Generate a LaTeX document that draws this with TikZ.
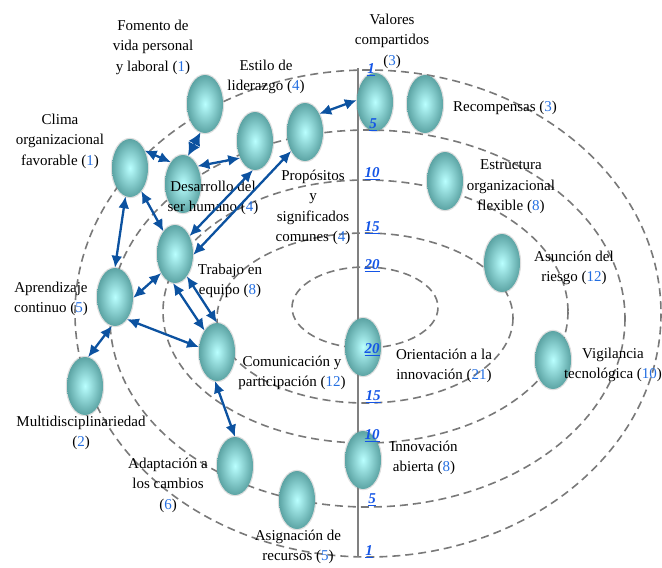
\documentclass[tikz,border=0pt]{standalone}
\usepackage{fontspec}
\setmainfont{Liberation Serif}
\usetikzlibrary{shapes.geometric}
\usetikzlibrary{arrows.meta}
\definecolor{linkblue}{RGB}{12,82,160}
\definecolor{numblue}{RGB}{35,110,225}
\definecolor{scaleblue}{RGB}{20,85,230}
\definecolor{sphereout}{RGB}{92,164,164}
\definecolor{spherein}{RGB}{185,255,255}
\newcommand{\nro}[1]{(\textcolor{numblue}{#1})}
\newcommand{\esc}[1]{\textcolor{scaleblue}{\underline{\textbf{\textit{#1}}}}}
\tikzset{x=1pt, y=-1pt,
    every node/.style={
        font=\fontsize{15}{20.5}\selectfont},
    sphere/.style={
        ellipse,
        minimum width=36pt,
        minimum height=58pt,
        inner sep=0pt,
        shading=radial,
        inner color=spherein,
        outer color=sphereout,
        preaction={draw=gray, line width=2.5pt, draw opacity=0.25}},
    txt/.style={
        align=center,
        inner sep=0pt},
    ring/.style={
        draw=gray!95!black,
        dash pattern=on 8pt off 5pt,
        line width=1.6pt},
    every edge/.style={
        draw,
        {Latex[length=12pt,width=11pt]}-{Latex[length=12pt,width=11pt]},
        color=linkblue,
        line width=2.3pt}}

\begin{document}
\begin{tikzpicture}
        \useasboundingbox (0,0) rectangle (662,568);

        \draw[ring] (365,307.5) ellipse [x radius=73, y radius=40.5];
        \draw[ring] (365,318) ellipse [x radius=148, y radius=85];
        \draw[ring] (365.5,311.5) ellipse [x radius=202.5, y radius=131.5];
        \draw[ring] (367.5,318.5) ellipse [x radius=257.5, y radius=188.5];
        \draw[ring] (368,313.5) ellipse [x radius=293, y radius=243.5];

        \coordinate (axistop) at (358,68);
        \coordinate (axisbot) at (358,557);
        \draw[gray, line width=1.6pt] (axistop) -- (axisbot);

        \node[sphere] (fomento) at (205,104) {};
        \node[sphere] (estilo) at (255,141) {};
        \node[sphere] (propositos) at (305,132) {};
        \node[sphere] (valores) at (375,102) {};
        \node[sphere] (recompensas) at (425,104) {};
        \node[sphere] (estructura) at (445,181) {};
        \node[sphere] (asuncion) at (502,263) {};
        \node[sphere] (vigilancia) at (553,360) {};
        \node[sphere] (orientacion) at (363,347) {};
        \node[sphere] (abierta) at (363,460) {};
        \node[sphere] (asignacion) at (297,500) {};
        \node[sphere] (adaptacion) at (235,466) {};
        \node[sphere] (multi) at (85,386) {};
        \node[sphere] (aprendizaje) at (115,297) {};
        \node[sphere] (trabajo) at (175,254) {};
        \node[sphere] (comunicacion) at (217,352) {};
        \node[sphere] (desarrollo) at (183,184) {};
        \node[sphere] (clima) at (130,168) {};

        \node[txt] (fomentotxt) at (153,47) {Fomento de\\vida personal\\y laboral \nro{1}};
        \node[txt] (estilotxt) at (266,77) {Estilo de\\liderazgo \nro{4}};
        \node[txt] (climatxt) at (60,141) {Clima\\organizacional\\favorable \nro{1}};
        \node[txt] (valorestxt) at (392,41) {Valores\\compartidos\\\nro{3}};
        \node[txt] (recompensastxt) at (505,108) {Recompensas \nro{3}};
        \node[txt] (estructuratxt) at (511,187) {Estructura\\organizacional\\flexible \nro{8}};
        \node[txt] (asuciontxt) at (574,268) {Asunción del\\riesgo \nro{12}};
        \node[txt] (propositostxt) at (313,207.5) {Propósitos\\y\\significados\\comunes \nro{4}};
        \node[txt] (desarrollotxt) at (213,198) {Desarrollo del\\ser humano \nro{4}};
        \node[txt] (trabajotxt) at (230,281) {Trabajo en\\equipo \nro{8}};
        \node[txt] (aprendizajetxt) at (51,299) {Aprendizaje\\continuo \nro{5}};
        \node[txt] (comunicaciontxt) at (292,373) {Comunicación y\\participación \nro{12}};
        \node[txt] (multitxt) at (81,433) {Multidisciplinariedad\\\nro{2}};
        \node[txt] (adaptaciontxt) at (168,485) {Adaptación a\\los cambios\\\nro{6}};
        \node[txt] (asignaciontxt) at (298,547) {Asignación de\\recursos \nro{5}};
        \node[txt] (orientaciontxt) at (444,366) {Orientación a la\\innovación \nro{21}};
        \node[txt] (abiertatxt) at (424,458) {Innovación\\abierta \nro{8}};
        \node[txt] (vigilanciatxt) at (613,365) {Vigilancia\\tecnológica \nro{10}};

        % scale on the axis
        \node (top1) at (371,69.5) {\esc{1}};
        \node (top5) at (373,125) {\esc{5}};
        \node (top10) at (372,174) {\esc{10}};
        \node (top15) at (372,228) {\esc{15}};
        \node (top20) at (372,266) {\esc{20}};
        \node (bot20) at (372,350) {\esc{20}};
        \node (bot15) at (373,397) {\esc{15}};
        \node (bot10) at (372,436) {\esc{10}};
        \node (bot5) at (372,500) {\esc{5}};
        \node (bot1) at (369,552) {\esc{1}};

        \draw (fomento.-99) edge[{Latex[length=13pt,width=13pt]}-{Latex[length=13pt,width=13pt]}] (desarrollo.80);
        \draw (clima.50) edge (desarrollo.119);
        \draw (desarrollo.51) edge (estilo.229);
        \draw (propositos.52) edge (valores.174);
        \draw (estilo.266) edge (trabajo.51);
        \draw (propositos.234) edge (trabajo.-3);
        \draw (clima.-64) edge (trabajo.117);
        \draw (clima.-99) edge (aprendizaje.90);
        \draw (aprendizaje.-3) edge (trabajo.234);
        \draw (aprendizaje.-62) edge (comunicacion.165);
        \draw (aprendizaje.-96) edge (multi.84);
        \draw (trabajo.-94) edge (comunicacion.120);
        \draw (trabajo.-62) edge (comunicacion.90);
        \draw (comunicacion.-94) edge (adaptacion.90);
    \end{tikzpicture}
\end{document}
